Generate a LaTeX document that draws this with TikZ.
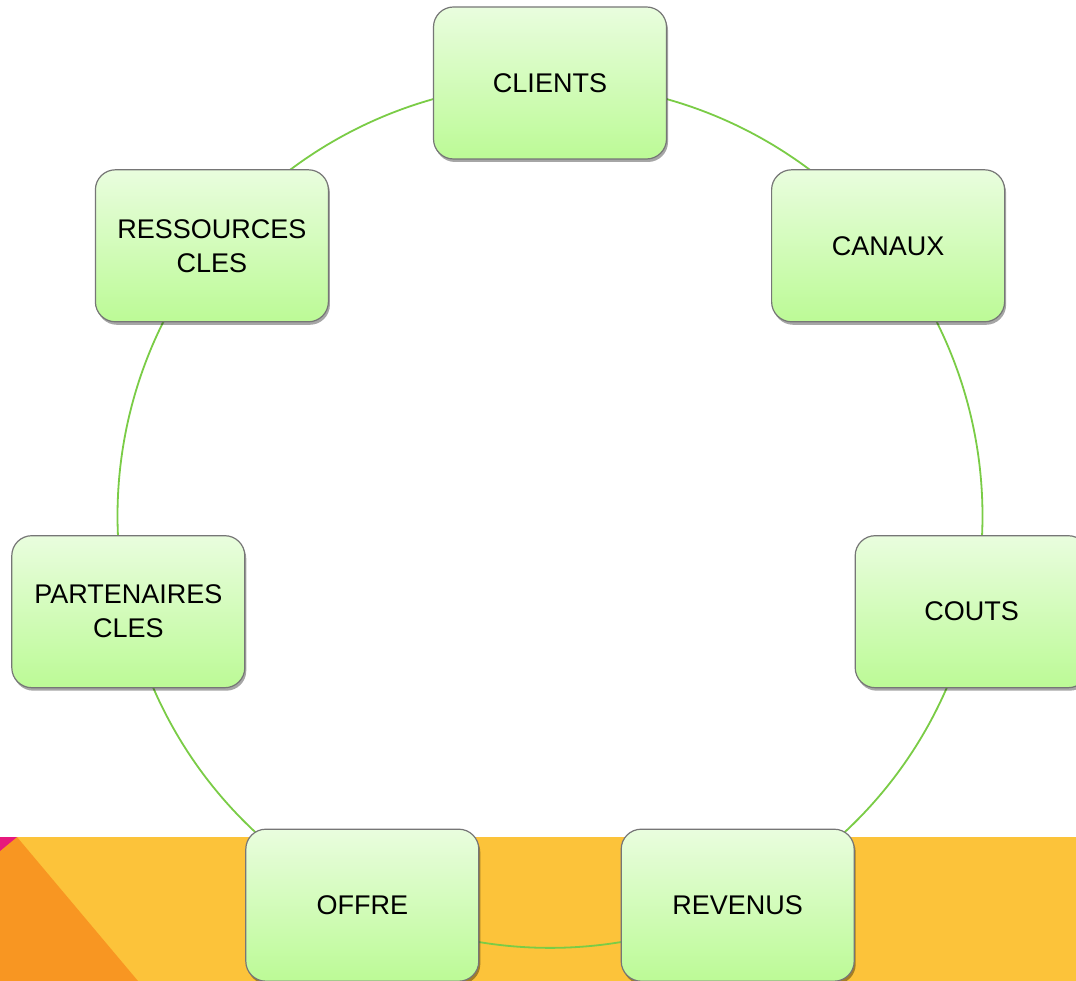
\documentclass[tikz,border=0pt]{standalone}
\usepackage{fontspec}
\setmainfont{Liberation Sans}
\usetikzlibrary{backgrounds,shadows}
\definecolor{bandyellow}{RGB}{252,195,58}
\definecolor{bandorange}{RGB}{248,150,34}
\definecolor{bandpink}{RGB}{230,25,125}
\definecolor{ringgreen}{RGB}{122,204,70}
\definecolor{boxtop}{RGB}{233,253,222}
\definecolor{boxbottom}{RGB}{188,250,150}
\definecolor{boxedge}{RGB}{118,118,118}
\tikzset{
  blockbox/.style={rounded corners=20pt, minimum width=233pt, minimum height=152pt,
    inner sep=0pt, align=center, draw=boxedge, line width=1.2pt,
    top color=boxtop, bottom color=boxbottom,
    drop shadow={shadow xshift=1.5pt, shadow yshift=-3pt, opacity=0.35, fill=black},
    font=\fontsize{27}{34}\selectfont},
  ring/.style={draw=ringgreen, line width=1.8pt, bend left=25.71, looseness=0.896}
}
\begin{document}
\begin{tikzpicture}[x=1pt,y=-1pt]
\useasboundingbox (0,0) rectangle (1076,981);
\begin{pgfonlayer}{background}
  \fill[white] (0,0) rectangle (1076,981);
  \fill[bandyellow] (0,837) rectangle (1076,981);
  \fill[bandorange] (0,837) -- (17,837) -- (138,981) -- (0,981) -- cycle;
  \fill[bandpink] (0,837) -- (17,837) -- (0,851) -- cycle;
\end{pgfonlayer}
\node[blockbox] (clients) at (550,83) {CLIENTS};
\node[blockbox] (canaux) at (888.1,245.8) {CANAUX};
\node[blockbox] (couts) at (971.7,611.7) {COUTS};
\node[blockbox] (revenus) at (737.7,905.2) {REVENUS};
\node[blockbox] (offre) at (362.3,905.2) {OFFRE};
\node[blockbox] (partenaires) at (128.3,611.7) {PARTENAIRES\\CLES};
\node[blockbox] (ressources) at (211.9,245.8) {RESSOURCES\\CLES};
\begin{pgfonlayer}{background}
  \draw[ring] (clients.center) to (canaux.center);
  \draw[ring] (canaux.center) to (couts.center);
  \draw[ring] (couts.center) to (revenus.center);
  \draw[ring] (revenus.center) to (offre.center);
  \draw[ring] (offre.center) to (partenaires.center);
  \draw[ring] (partenaires.center) to (ressources.center);
  \draw[ring] (ressources.center) to (clients.center);
\end{pgfonlayer}
\end{tikzpicture}
\end{document}
